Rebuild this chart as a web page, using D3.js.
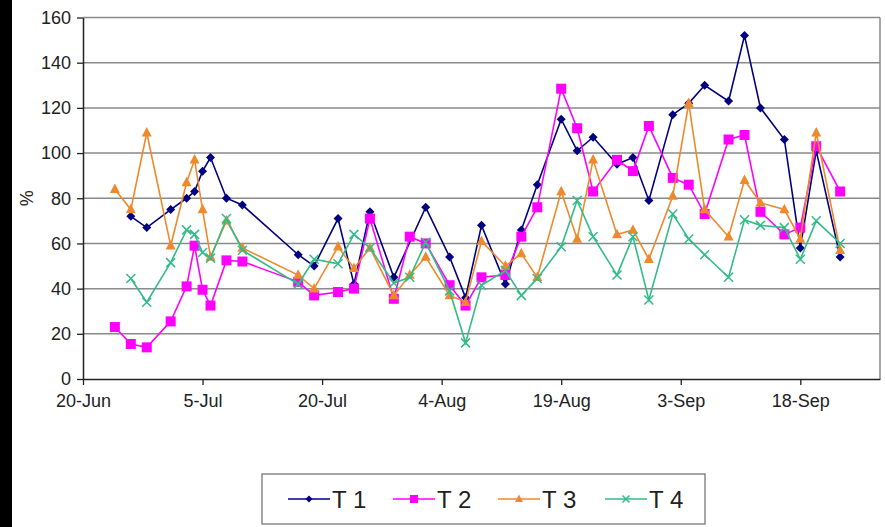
<!DOCTYPE html>
<html><head><meta charset="utf-8">
<script src="https://cdn.jsdelivr.net/npm/d3@7"></script>
<style>html,body{margin:0;padding:0;background:#fff;}svg{display:block;}</style>
</head><body>
<script>
const dates = ["2007-06-24","2007-06-26","2007-06-28","2007-07-01","2007-07-03","2007-07-04","2007-07-05","2007-07-06","2007-07-08","2007-07-10",
"2007-07-17","2007-07-19","2007-07-22","2007-07-24","2007-07-26","2007-07-29","2007-07-31","2007-08-02","2007-08-05","2007-08-07",
"2007-08-09","2007-08-12","2007-08-14","2007-08-16","2007-08-19","2007-08-21","2007-08-23","2007-08-26","2007-08-28","2007-08-30",
"2007-09-02","2007-09-04","2007-09-06","2007-09-09","2007-09-11","2007-09-13","2007-09-16","2007-09-18","2007-09-20","2007-09-23"];
const t1 = [null,72,67,75,80,83,92,98,80,77, 55,50,71,42,74,45,null,76,54,36, 68,42,66,86,115,101,107,95,98,79, 117,122,130,123,152,120,106,58,101,54];
const t2 = [23,15.5,14,25.5,41,59,39.5,32.5,52.5,52, 43,37,38.5,40,71,35.5,63,60,41.5,32.5, 45,46,63,76,128.5,111,83,97,92,112, 89,86,73,106,108,74,64,67,103,83];
const t3 = [84,75,109,59,87,97,75,54,70,58, 46,40,58.5,49,58,37,46,54,37,34, 61,50,55.5,45,83,62,97,64,66,53, 81,122,75,63,88,78,75,62,109,57];
const t4 = [null,44.5,34,51.5,66,64,56,53.5,71,57, 42,53,51,64,58,42.5,45,60.5,39,16, 41.5,48,37,44.5,58.5,79,63,46,63,35, 73,62,55,45,70.5,68,67,53,70,60];
const seriesNames = ["T 1","T 2","T 3","T 4"];
const yTicks = [0,20,40,60,80,100,120,140,160];
const xStart = "2007-06-20", xEnd = "2007-09-28";

const W = 885, H = 527;
const parse = d3.timeParse("%Y-%m-%d");
const svg = d3.select("body").append("svg").attr("width", W).attr("height", H);
svg.append("rect").attr("x",0).attr("y",0).attr("width",W).attr("height",H).attr("fill","#fff");
svg.append("rect").attr("x",0).attr("y",0).attr("width",12).attr("height",H).attr("fill","#000");

const L = 83, R = 880, T = 17.5, B = 379;
const x = d3.scaleTime().domain([parse(xStart), parse(xEnd)]).range([L, R]);
const y = d3.scaleLinear().domain([0,160]).range([B, T]);

// gridlines
svg.append("g").selectAll("line").data(yTicks.filter(v=>v>0)).join("line")
  .attr("x1",L).attr("x2",R).attr("y1",d=>y(d)).attr("y2",d=>y(d))
  .attr("stroke","#8a8a8a").attr("stroke-width",1.5);
// right border
svg.append("line").attr("x1",R).attr("x2",R).attr("y1",T).attr("y2",B).attr("stroke","#8a8a8a").attr("stroke-width",1.5);

// axes
const xTickVals = d3.range(0, 100, 15).map(d => d3.timeDay.offset(parse(xStart), d));
const xAxis = d3.axisBottom(x).tickValues(xTickVals).tickFormat(d3.timeFormat("%-d-%b")).tickSize(6).tickSizeOuter(0);
const gx = svg.append("g").attr("transform",`translate(0,${B})`).call(xAxis);
gx.select(".domain").attr("stroke","#222").attr("stroke-width",1.5);
gx.selectAll(".tick line").attr("stroke","#222").attr("stroke-width",1.3);
gx.selectAll("text").attr("font-family","'Liberation Sans', Arial, sans-serif").attr("font-size",18).attr("fill","#222").attr("dy","1.05em");

const yAxis = d3.axisLeft(y).tickValues(yTicks).tickSize(6).tickSizeOuter(0);
const gy = svg.append("g").attr("transform",`translate(${L},0)`).call(yAxis);
gy.select(".domain").attr("stroke","#222").attr("stroke-width",1.5);
gy.selectAll(".tick line").attr("stroke","#222").attr("stroke-width",1.3);
gy.selectAll("text").attr("font-family","'Liberation Sans', Arial, sans-serif").attr("font-size",18).attr("fill","#222").attr("x",-12);

svg.append("text").attr("transform",`translate(33,${(T+B)/2}) rotate(-90)`).attr("text-anchor","middle")
  .attr("font-family","'Liberation Sans', Arial, sans-serif").attr("font-size",18).attr("fill","#222").text("%");

const colors = ["#000080","#ff00ff","#ee8a2c","#33bb88"];
const shapes = ["diamond","square","triangle","x"];
const data = [t1,t2,t3,t4];

function marker(g, shape, color, s) {
  if (shape === "diamond") {
    g.append("path").attr("d", `M0,${-s}L${s},0L0,${s}L${-s},0Z`).attr("fill",color);
  } else if (shape === "square") {
    g.append("rect").attr("x",-s).attr("y",-s).attr("width",2*s).attr("height",2*s).attr("fill",color);
  } else if (shape === "triangle") {
    g.append("path").attr("d", `M0,${-s*1.15}L${s},${s*0.75}L${-s},${s*0.75}Z`).attr("fill",color);
  } else {
    g.append("path").attr("d", `M${-s},${-s}L${s},${s}M${-s},${s}L${s},${-s}`).attr("stroke",color).attr("stroke-width",1.5).attr("fill","none");
  }
}
const sizes = [4.5,5,5,4.5];

const line = d3.line().x(d=>x(d.date)).y(d=>y(d.v));
data.forEach((vals, i) => {
  const pts = vals.map((v,j)=>({date: parse(dates[j]), v})).filter(d=>d.v!==null);
  svg.append("path").datum(pts).attr("d", line).attr("fill","none").attr("stroke",colors[i]).attr("stroke-width",1.6);
  svg.append("g").selectAll("g").data(pts).join("g")
    .attr("transform", d=>`translate(${x(d.date)},${y(d.v)})`)
    .each(function(){ marker(d3.select(this), shapes[i], colors[i], sizes[i]); });
});

// legend
const lg = svg.append("g");
lg.append("rect").attr("x",262).attr("y",474).attr("width",443).attr("height",50).attr("fill","#fff").attr("stroke","#777").attr("stroke-width",1.3);
const lx = [288, 393, 498, 605];
seriesNames.forEach((n,i)=>{
  const cy = 499;
  lg.append("line").attr("x1",lx[i]).attr("x2",lx[i]+42).attr("y1",cy).attr("y2",cy).attr("stroke",colors[i]).attr("stroke-width",1.6);
  const mg = lg.append("g").attr("transform",`translate(${lx[i]+21},${cy})`);
  marker(mg, shapes[i], colors[i], [3.5,4,4,3.5][i]);
  lg.append("text").attr("x",lx[i]+44).attr("y",cy+8.5).attr("font-family","'Liberation Sans', Arial, sans-serif")
    .attr("font-size",24).attr("fill","#222").text(n);
});
</script>
</body></html>
